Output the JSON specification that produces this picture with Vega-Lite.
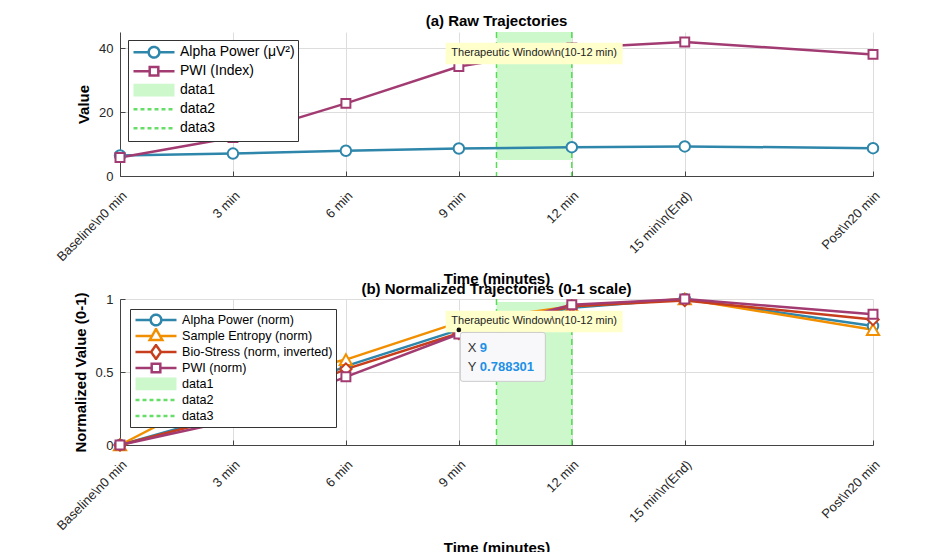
{
  "$schema": "https://vega.github.io/schema/vega-lite/v6.json",
  "padding": {"left": 54, "top": 14, "right": 20, "bottom": 0},
  "background": "white",
  "config": {
    "font": "Liberation Sans",
    "view": {"stroke": null},
    "axis": {"labelFont": "Liberation Sans", "labelFontSize": 13, "labelColor": "#262626", "titleFont": "Liberation Sans", "titleFontSize": 15, "titleFontWeight": "bold", "titleColor": "#000000", "domainColor": "#444444", "tickColor": "#444444", "gridColor": "#dddddd", "grid": true, "tickSize": -5, "domainWidth": 1},
    "axisX": {"labelAngle": -45, "labelAlign": "right", "labelBaseline": "top", "labelPadding": 18, "titlePadding": 8, "labelFlush": false},
    "axisY": {"labelPadding": 12, "titlePadding": 7},
    "title": {"fontSize": 15, "fontWeight": "bold", "font": "Liberation Sans", "color": "#000000", "frame": "group"},
    "legend": {"labelFont": "Liberation Sans", "labelFontSize": 14, "labelLimit": 400, "labelColor": "#000000", "strokeColor": "#333333", "fillColor": "white", "padding": 3, "symbolSize": 1681, "rowPadding": 0, "symbolOffset": 1, "labelOffset": 4, "symbolFillColor": "white", "symbolOpacity": 1, "symbolStrokeWidth": 2.5}
  },
  "datasets": {
    "raw": [
      {"t": 0, "series": "Alpha Power (μV²)", "value": 6.4},
      {"t": 3, "series": "Alpha Power (μV²)", "value": 7.0},
      {"t": 6, "series": "Alpha Power (μV²)", "value": 7.9},
      {"t": 9, "series": "Alpha Power (μV²)", "value": 8.6},
      {"t": 12, "series": "Alpha Power (μV²)", "value": 9.0},
      {"t": 15, "series": "Alpha Power (μV²)", "value": 9.25},
      {"t": 20, "series": "Alpha Power (μV²)", "value": 8.7},
      {"t": 0, "series": "PWI (Index)", "value": 5.8},
      {"t": 3, "series": "PWI (Index)", "value": 12.0},
      {"t": 6, "series": "PWI (Index)", "value": 22.7},
      {"t": 9, "series": "PWI (Index)", "value": 34.2},
      {"t": 12, "series": "PWI (Index)", "value": 40.0},
      {"t": 15, "series": "PWI (Index)", "value": 41.9},
      {"t": 20, "series": "PWI (Index)", "value": 38.0}
    ],
    "norm": [
      {"t": 0, "series": "Alpha Power (norm)", "value": 0},
      {"t": 3, "series": "Alpha Power (norm)", "value": 0.22},
      {"t": 6, "series": "Alpha Power (norm)", "value": 0.54},
      {"t": 9, "series": "Alpha Power (norm)", "value": 0.788301},
      {"t": 12, "series": "Alpha Power (norm)", "value": 0.94},
      {"t": 15, "series": "Alpha Power (norm)", "value": 1.0},
      {"t": 20, "series": "Alpha Power (norm)", "value": 0.815},
      {"t": 0, "series": "Sample Entropy (norm)", "value": 0},
      {"t": 3, "series": "Sample Entropy (norm)", "value": 0.4},
      {"t": 6, "series": "Sample Entropy (norm)", "value": 0.585},
      {"t": 9, "series": "Sample Entropy (norm)", "value": 0.84},
      {"t": 12, "series": "Sample Entropy (norm)", "value": 0.95},
      {"t": 15, "series": "Sample Entropy (norm)", "value": 1.0},
      {"t": 20, "series": "Sample Entropy (norm)", "value": 0.79},
      {"t": 0, "series": "Bio-Stress (norm, inverted)", "value": 0},
      {"t": 3, "series": "Bio-Stress (norm, inverted)", "value": 0.2},
      {"t": 6, "series": "Bio-Stress (norm, inverted)", "value": 0.52},
      {"t": 9, "series": "Bio-Stress (norm, inverted)", "value": 0.765},
      {"t": 12, "series": "Bio-Stress (norm, inverted)", "value": 0.95},
      {"t": 15, "series": "Bio-Stress (norm, inverted)", "value": 0.99},
      {"t": 20, "series": "Bio-Stress (norm, inverted)", "value": 0.86},
      {"t": 0, "series": "PWI (norm)", "value": 0},
      {"t": 3, "series": "PWI (norm)", "value": 0.17},
      {"t": 6, "series": "PWI (norm)", "value": 0.467},
      {"t": 9, "series": "PWI (norm)", "value": 0.76},
      {"t": 12, "series": "PWI (norm)", "value": 0.96},
      {"t": 15, "series": "PWI (norm)", "value": 1.0},
      {"t": 20, "series": "PWI (norm)", "value": 0.895}
    ],
    "legendA": [{"entry": "Alpha Power (μV²)"}, {"entry": "PWI (Index)"}, {"entry": "data1"}, {"entry": "data2"}, {"entry": "data3"}],
    "legendB": [{"entry": "Alpha Power (norm)"}, {"entry": "Sample Entropy (norm)"}, {"entry": "Bio-Stress (norm, inverted)"}, {"entry": "PWI (norm)"}, {"entry": "data1"}, {"entry": "data2"}, {"entry": "data3"}],
    "bandA": [{"t": 10, "t2": 12, "value": 5, "value2": 45}],
    "bandB": [{"t": 10, "t2": 12, "value": 0, "value2": 0.98}],
    "windowLines": [{"t": 10}, {"t": 12}],
    "noteA": [{"t": 11, "value": 38.3, "label": "Therapeutic Window\\n(10-12 min)"}],
    "noteB": [{"t": 11, "value": 0.846, "label": "Therapeutic Window\\n(10-12 min)"}],
    "tip": [{"t": 9, "value": 0.788301}]
  },
  "resolve": {"scale": {"x": "independent", "y": "independent", "color": "independent", "stroke": "independent", "shape": "independent", "strokeDash": "independent"}, "legend": {"stroke": "independent", "shape": "independent", "strokeDash": "independent"}},
  "spacing": 123,
  "bounds": "flush",
  "vconcat": [
    {
      "width": 753,
      "height": 144,
      "title": {"text": "(a) Raw Trajectories", "offset": 2},
      "layer": [
        {
          "data": {"name": "bandA"},
          "mark": {"type": "rect", "color": "#ccf8cc"},
          "encoding": {
            "x": {"field": "t", "type": "quantitative", "title": "Time (minutes)", "scale": {"domain": [0, 20], "nice": false, "zero": false}, "axis": {"values": [0, 3, 6, 9, 12, 15, 20], "labelExpr": "datum.value == 0 ? 'Baseline\\\\n0 min' : datum.value == 15 ? '15 min\\\\n(End)' : datum.value == 20 ? 'Post\\\\n20 min' : datum.value + ' min'"}},
            "x2": {"field": "t2"},
            "y": {"field": "value", "type": "quantitative", "title": "Value", "scale": {"domain": [0, 45], "nice": false}, "axis": {"values": [0, 10, 20, 30, 40]}},
            "y2": {"field": "value2"}
          }
        },
        {
          "data": {"name": "windowLines"},
          "mark": {"type": "rule", "color": "#55dd55", "strokeDash": [6, 4], "strokeWidth": 1.5},
          "encoding": {
            "x": {"field": "t", "type": "quantitative", "title": "Time (minutes)"}
          }
        },
        {
          "data": {"name": "raw"},
          "mark": {"type": "line", "strokeWidth": 2.5},
          "encoding": {
            "x": {"field": "t", "type": "quantitative", "title": "Time (minutes)"},
            "y": {"field": "value", "type": "quantitative", "title": "Value"},
            "color": {"field": "series", "type": "nominal", "scale": {"domain": ["Alpha Power (μV²)", "PWI (Index)"], "range": ["#2E86AB", "#A23B72"]}, "legend": null}
          }
        },
        {
          "data": {"name": "raw"},
          "transform": [{"filter": "datum.series === 'Alpha Power (μV²)'"}],
          "mark": {"type": "point", "shape": "circle", "filled": true, "fill": "white", "stroke": "#2E86AB", "strokeWidth": 2, "opacity": 1, "size": 110},
          "encoding": {
            "x": {"field": "t", "type": "quantitative", "title": "Time (minutes)"},
            "y": {"field": "value", "type": "quantitative", "title": "Value"}
          }
        },
        {
          "data": {"name": "raw"},
          "transform": [{"filter": "datum.series === 'PWI (Index)'"}],
          "mark": {"type": "point", "shape": "square", "filled": true, "fill": "white", "stroke": "#A23B72", "strokeWidth": 2, "opacity": 1, "size": 80},
          "encoding": {
            "x": {"field": "t", "type": "quantitative", "title": "Time (minutes)"},
            "y": {"field": "value", "type": "quantitative", "title": "Value"}
          }
        },
        {
          "data": {"name": "noteA"},
          "mark": {"type": "point", "filled": true, "fill": "#ffffcc", "strokeWidth": 0, "opacity": 1, "size": 31329, "shape": "M-1,-0.121H1V0.121H-1Z"},
          "encoding": {
            "x": {"field": "t", "type": "quantitative", "title": "Time (minutes)"},
            "y": {"field": "value", "type": "quantitative", "title": "Value"}
          }
        },
        {
          "data": {"name": "noteA"},
          "mark": {"type": "text", "fontSize": 11, "font": "Liberation Sans", "color": "#222222"},
          "encoding": {
            "x": {"field": "t", "type": "quantitative", "title": "Time (minutes)"},
            "y": {"field": "value", "type": "quantitative", "title": "Value"},
            "text": {"field": "label"}
          }
        },
        {
          "data": {"name": "legendA"},
          "mark": {"type": "point", "opacity": 0},
          "encoding": {
            "shape": {"field": "entry", "type": "nominal", "scale": {"domain": ["Alpha Power (μV²)", "PWI (Index)", "data1", "data2", "data3"], "range": ["M-1,0H-0.26M0.26,0H1M0.26,0A0.26,0.26,0,1,1,-0.26,0A0.26,0.26,0,1,1,0.26,0Z", "M-1,0H-0.21M0.21,0H1M-0.21,-0.21H0.21V0.21H-0.21Z", "M-1,-0.26H1M-1,-0.16H1M-1,-0.06H1M-1,0.04H1M-1,0.14H1M-1,0.24H1", "M-1,0H1", "M-1,0H1"]}, "legend": {"title": null, "orient": "top-left", "offset": 8, "clipHeight": 18.5, "labelFontSize": 14}},
            "stroke": {"field": "entry", "type": "nominal", "scale": {"domain": ["Alpha Power (μV²)", "PWI (Index)", "data1", "data2", "data3"], "range": ["#2E86AB", "#A23B72", "#ccf8cc", "#66dd66", "#66dd66"]}, "legend": {"title": null, "orient": "top-left", "offset": 8, "clipHeight": 18.5, "labelFontSize": 14}},
            "strokeDash": {"field": "entry", "type": "nominal", "scale": {"domain": ["Alpha Power (μV²)", "PWI (Index)", "data1", "data2", "data3"], "range": [[1, 0], [1, 0], [1, 0], [4, 3], [4, 3]]}, "legend": {"title": null, "orient": "top-left", "offset": 8, "clipHeight": 18.5, "labelFontSize": 14}}
          }
        }
      ]
    },
    {
      "width": 753,
      "height": 146,
      "title": {"text": "(b) Normalized Trajectories (0-1 scale)", "offset": -7},
      "layer": [
        {
          "data": {"name": "bandB"},
          "mark": {"type": "rect", "color": "#ccf8cc"},
          "encoding": {
            "x": {"field": "t", "type": "quantitative", "title": "Time (minutes)", "scale": {"domain": [0, 20], "nice": false, "zero": false}, "axis": {"values": [0, 3, 6, 9, 12, 15, 20], "labelExpr": "datum.value == 0 ? 'Baseline\\\\n0 min' : datum.value == 15 ? '15 min\\\\n(End)' : datum.value == 20 ? 'Post\\\\n20 min' : datum.value + ' min'"}},
            "x2": {"field": "t2"},
            "y": {"field": "value", "type": "quantitative", "title": "Normalized Value (0-1)", "scale": {"domain": [0, 1], "nice": false}, "axis": {"values": [0, 0.5, 1], "format": "~g", "titlePadding": 6}},
            "y2": {"field": "value2"}
          }
        },
        {
          "data": {"name": "windowLines"},
          "mark": {"type": "rule", "color": "#55dd55", "strokeDash": [6, 4], "strokeWidth": 1.5},
          "encoding": {
            "x": {"field": "t", "type": "quantitative", "title": "Time (minutes)"}
          }
        },
        {
          "data": {"name": "norm"},
          "mark": {"type": "line", "strokeWidth": 2.5},
          "encoding": {
            "x": {"field": "t", "type": "quantitative", "title": "Time (minutes)"},
            "y": {"field": "value", "type": "quantitative", "title": "Normalized Value (0-1)"},
            "color": {"field": "series", "type": "nominal", "scale": {"domain": ["Alpha Power (norm)", "Sample Entropy (norm)", "Bio-Stress (norm, inverted)", "PWI (norm)"], "range": ["#2E86AB", "#F18F01", "#C73E1D", "#A23B72"]}, "legend": null}
          }
        },
        {
          "data": {"name": "norm"},
          "transform": [{"filter": "datum.series === 'Alpha Power (norm)'"}],
          "mark": {"type": "point", "shape": "circle", "filled": true, "fill": "white", "stroke": "#2E86AB", "strokeWidth": 2, "opacity": 1, "size": 110},
          "encoding": {
            "x": {"field": "t", "type": "quantitative", "title": "Time (minutes)"},
            "y": {"field": "value", "type": "quantitative", "title": "Normalized Value (0-1)"}
          }
        },
        {
          "data": {"name": "norm"},
          "transform": [{"filter": "datum.series === 'Sample Entropy (norm)'"}],
          "mark": {"type": "point", "shape": "triangle-up", "filled": true, "fill": "white", "stroke": "#F18F01", "strokeWidth": 2, "opacity": 1, "size": 150},
          "encoding": {
            "x": {"field": "t", "type": "quantitative", "title": "Time (minutes)"},
            "y": {"field": "value", "type": "quantitative", "title": "Normalized Value (0-1)"}
          }
        },
        {
          "data": {"name": "norm"},
          "transform": [{"filter": "datum.series === 'Bio-Stress (norm, inverted)'"}],
          "mark": {"type": "point", "shape": "diamond", "filled": true, "fill": "white", "stroke": "#C73E1D", "strokeWidth": 2, "opacity": 1, "size": 130},
          "encoding": {
            "x": {"field": "t", "type": "quantitative", "title": "Time (minutes)"},
            "y": {"field": "value", "type": "quantitative", "title": "Normalized Value (0-1)"}
          }
        },
        {
          "data": {"name": "norm"},
          "transform": [{"filter": "datum.series === 'PWI (norm)'"}],
          "mark": {"type": "point", "shape": "square", "filled": true, "fill": "white", "stroke": "#A23B72", "strokeWidth": 2, "opacity": 1, "size": 80},
          "encoding": {
            "x": {"field": "t", "type": "quantitative", "title": "Time (minutes)"},
            "y": {"field": "value", "type": "quantitative", "title": "Normalized Value (0-1)"}
          }
        },
        {
          "data": {"name": "noteB"},
          "mark": {"type": "point", "filled": true, "fill": "#ffffcc", "strokeWidth": 0, "opacity": 1, "size": 31329, "shape": "M-1,-0.121H1V0.121H-1Z"},
          "encoding": {
            "x": {"field": "t", "type": "quantitative", "title": "Time (minutes)"},
            "y": {"field": "value", "type": "quantitative", "title": "Normalized Value (0-1)"}
          }
        },
        {
          "data": {"name": "noteB"},
          "mark": {"type": "text", "fontSize": 11, "font": "Liberation Sans", "color": "#222222"},
          "encoding": {
            "x": {"field": "t", "type": "quantitative", "title": "Time (minutes)"},
            "y": {"field": "value", "type": "quantitative", "title": "Normalized Value (0-1)"},
            "text": {"field": "label"}
          }
        },
        {
          "data": {"name": "tip"},
          "mark": {"type": "point", "filled": true, "fill": "#f8f8fa", "stroke": "#cccccc", "strokeWidth": 1, "opacity": 1, "size": 7225, "xOffset": 44, "yOffset": 27, "shape": "M-0.94,-0.576H0.94Q1,-0.576,1,-0.52V0.52Q1,0.576,0.94,0.576H-0.94Q-1,0.576,-1,0.52V-0.52Q-1,-0.576,-0.94,-0.576Z"},
          "encoding": {
            "x": {"field": "t", "type": "quantitative", "title": "Time (minutes)"},
            "y": {"field": "value", "type": "quantitative", "title": "Normalized Value (0-1)"}
          }
        },
        {
          "data": {"name": "tip"},
          "mark": {"type": "point", "filled": true, "fill": "#111111", "strokeWidth": 0, "opacity": 1, "size": 22, "shape": "circle"},
          "encoding": {
            "x": {"field": "t", "type": "quantitative", "title": "Time (minutes)"},
            "y": {"field": "value", "type": "quantitative", "title": "Normalized Value (0-1)"}
          }
        },
        {
          "data": {"name": "tip"},
          "mark": {"type": "text", "fontSize": 13, "font": "Liberation Sans", "color": "#333333", "align": "left", "baseline": "middle", "dx": 9, "dy": 18},
          "encoding": {
            "x": {"field": "t", "type": "quantitative", "title": "Time (minutes)"},
            "y": {"field": "value", "type": "quantitative", "title": "Normalized Value (0-1)"},
            "text": {"value": "X"}
          }
        },
        {
          "data": {"name": "tip"},
          "mark": {"type": "text", "fontSize": 13, "font": "Liberation Sans", "color": "#333333", "align": "left", "baseline": "middle", "dx": 9, "dy": 37},
          "encoding": {
            "x": {"field": "t", "type": "quantitative", "title": "Time (minutes)"},
            "y": {"field": "value", "type": "quantitative", "title": "Normalized Value (0-1)"},
            "text": {"value": "Y"}
          }
        },
        {
          "data": {"name": "tip"},
          "mark": {"type": "text", "fontSize": 13, "fontWeight": "bold", "font": "Liberation Sans", "color": "#1e90e6", "align": "left", "baseline": "middle", "dx": 21, "dy": 18},
          "encoding": {
            "x": {"field": "t", "type": "quantitative", "title": "Time (minutes)"},
            "y": {"field": "value", "type": "quantitative", "title": "Normalized Value (0-1)"},
            "text": {"field": "t", "type": "quantitative", "format": "d"}
          }
        },
        {
          "data": {"name": "tip"},
          "mark": {"type": "text", "fontSize": 13, "fontWeight": "bold", "font": "Liberation Sans", "color": "#1e90e6", "align": "left", "baseline": "middle", "dx": 21, "dy": 37},
          "encoding": {
            "x": {"field": "t", "type": "quantitative", "title": "Time (minutes)"},
            "y": {"field": "value", "type": "quantitative", "title": "Normalized Value (0-1)"},
            "text": {"field": "value", "type": "quantitative", "format": ".6f"}
          }
        },
        {
          "data": {"name": "legendB"},
          "mark": {"type": "point", "opacity": 0},
          "encoding": {
            "shape": {"field": "entry", "type": "nominal", "scale": {"domain": ["Alpha Power (norm)", "Sample Entropy (norm)", "Bio-Stress (norm, inverted)", "PWI (norm)", "data1", "data2", "data3"], "range": ["M-1,0H-0.26M0.26,0H1M0.26,0A0.26,0.26,0,1,1,-0.26,0A0.26,0.26,0,1,1,0.26,0Z", "M-1,0H-0.2M0.2,0H1M0,-0.34L0.31,0.2H-0.31Z", "M-1,0H-0.24M0.24,0H1M0,-0.34L0.24,0L0,0.34L-0.24,0Z", "M-1,0H-0.21M0.21,0H1M-0.21,-0.21H0.21V0.21H-0.21Z", "M-1,-0.26H1M-1,-0.16H1M-1,-0.06H1M-1,0.04H1M-1,0.14H1M-1,0.24H1", "M-1,0H1", "M-1,0H1"]}, "legend": {"title": null, "orient": "top-left", "offset": 10, "clipHeight": 16, "labelFontSize": 12.6}},
            "stroke": {"field": "entry", "type": "nominal", "scale": {"domain": ["Alpha Power (norm)", "Sample Entropy (norm)", "Bio-Stress (norm, inverted)", "PWI (norm)", "data1", "data2", "data3"], "range": ["#2E86AB", "#F18F01", "#C73E1D", "#A23B72", "#ccf8cc", "#66dd66", "#66dd66"]}, "legend": {"title": null, "orient": "top-left", "offset": 10, "clipHeight": 16, "labelFontSize": 12.6}},
            "strokeDash": {"field": "entry", "type": "nominal", "scale": {"domain": ["Alpha Power (norm)", "Sample Entropy (norm)", "Bio-Stress (norm, inverted)", "PWI (norm)", "data1", "data2", "data3"], "range": [[1, 0], [1, 0], [1, 0], [1, 0], [1, 0], [4, 3], [4, 3]]}, "legend": {"title": null, "orient": "top-left", "offset": 10, "clipHeight": 16, "labelFontSize": 12.6}}
          }
        }
      ]
    }
  ]
}
